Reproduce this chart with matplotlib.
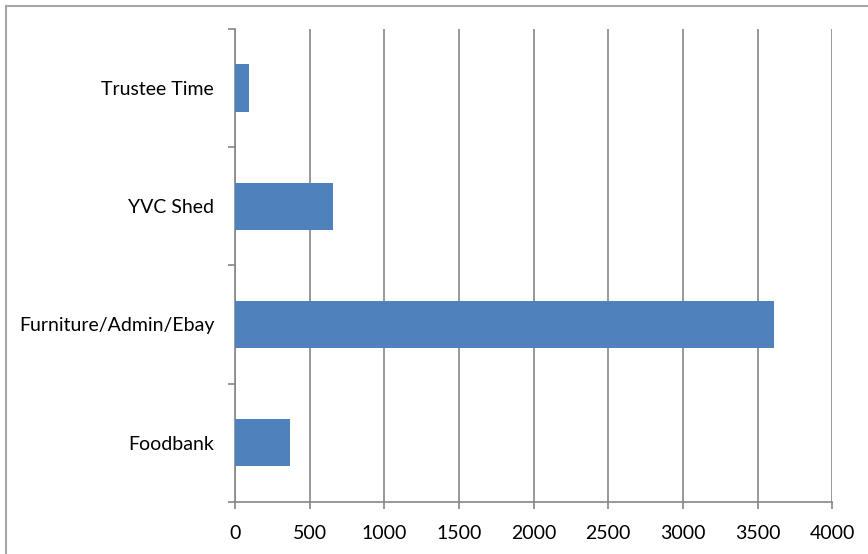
import matplotlib.pyplot as plt
from matplotlib.lines import Line2D

categories = ['Foodbank', 'Furniture/Admin/Ebay', 'YVC Shed', 'Trustee Time']
hours = [371, 3608, 654, 92]
x_ticks = [0, 500, 1000, 1500, 2000, 2500, 3000, 3500, 4000]

plt.rcParams['font.family'] = ['Lato', 'DejaVu Sans']

fig = plt.figure(figsize=(8.68, 5.54), dpi=100)
ax = fig.add_axes([235 / 868, 52.3 / 554, 597.3 / 868, 472.7 / 554])

grey = '#868686'
pos = list(range(len(categories)))
ax.barh(pos, hours, height=0.4, color='#4F81BD', zorder=3)

ax.set_xlim(0, 4000)
ax.set_ylim(-0.5, len(categories) - 0.5)
ax.set_xticks(x_ticks)
ax.set_xticklabels([str(v) for v in x_ticks], fontsize=14)
ax.set_yticks(pos)
ax.set_yticklabels(categories, fontsize=14)
ax.set_yticks([p - 0.5 for p in pos] + [len(categories) - 0.5], minor=True)

ax.grid(axis='x', color=grey, linewidth=1.2, zorder=0)
for side in ['top', 'right']:
    ax.spines[side].set_visible(False)
for side in ['left', 'bottom']:
    ax.spines[side].set_color(grey)
    ax.spines[side].set_linewidth(1.2)

ax.tick_params(axis='x', direction='out', length=5, color=grey, width=1.2, pad=12)
ax.tick_params(axis='y', which='major', length=0, pad=15)
ax.tick_params(axis='y', which='minor', direction='out', length=5, color=grey, width=1.2)

# outer chart border (light grey)
fig.add_artist(Line2D([5.5 / 868, 1], [1 - 6 / 554, 1 - 6 / 554],
                      transform=fig.transFigure, color='#a6a6a6', linewidth=1.5))
fig.add_artist(Line2D([5.5 / 868, 5.5 / 868], [0, 1 - 6 / 554],
                      transform=fig.transFigure, color='#a6a6a6', linewidth=1.5))

fig.savefig('out.png', dpi=100)
